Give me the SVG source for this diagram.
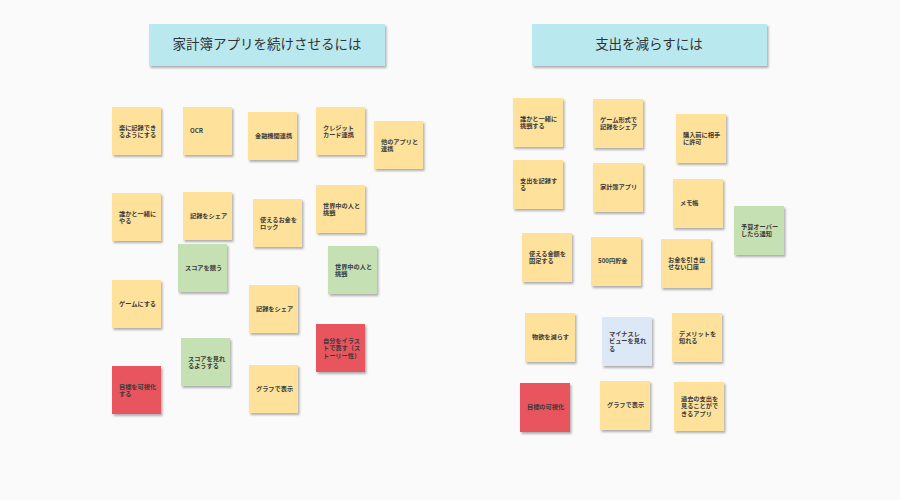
<svg xmlns="http://www.w3.org/2000/svg" width="900" height="500" viewBox="0 0 900 500">
<defs>
<filter id="sh" x="-20%" y="-20%" width="140%" height="140%">
<feDropShadow dx="1.5" dy="2" stdDeviation="1.2" flood-color="#000" flood-opacity="0.3"/>
</filter>
<style>
.t{fill:#b9e8ee;filter:url(#sh)}
.tt{font-family:"Noto Sans CJK JP","Noto Sans",sans-serif;font-size:13.5px;fill:#333;text-anchor:middle}
.y{fill:#fee29b;filter:url(#sh)}
.g{fill:#c5e0b3;filter:url(#sh)}
.r{fill:#e8545e;filter:url(#sh)}
.b{fill:#dce8f6;filter:url(#sh)}
.n{font-family:"Noto Sans CJK JP","Noto Sans",sans-serif;font-size:6.2px;font-weight:bold;fill:#3a3a3a}
</style>
</defs>
<rect width="900" height="500" fill="#fafafa"/>
<g id="title1"><rect class="t" x="149" y="24" width="236" height="42"/><text class="tt" x="267" y="49">家計簿アプリを続けさせるには</text></g>
<g id="title2"><rect class="t" x="532" y="24" width="235" height="42"/><text class="tt" x="649" y="49">支出を減らすには</text></g>

<g id="L1"><rect class="y" x="112" y="107" width="49" height="48"/><text class="n"><tspan x="119" y="129.5">楽に記録でき</tspan><tspan x="119" y="137">るようにする</tspan></text></g>
<g id="L2"><rect class="y" x="183" y="107" width="49" height="48"/><text class="n"><tspan x="190" y="133.3">OCR</tspan></text></g>
<g id="L3"><rect class="y" x="248" y="112" width="49" height="48"/><text class="n"><tspan x="255" y="138.3">金融機関連携</tspan></text></g>
<g id="L4"><rect class="y" x="316" y="107" width="49" height="48"/><text class="n"><tspan x="323" y="129.5">クレジット</tspan><tspan x="323" y="137">カード連携</tspan></text></g>
<g id="L5"><rect class="y" x="374" y="121" width="49" height="48"/><text class="n"><tspan x="381" y="143.5">他のアプリと</tspan><tspan x="381" y="151">連携</tspan></text></g>
<g id="L6"><rect class="y" x="112" y="193" width="49" height="48"/><text class="n"><tspan x="119" y="215.5">誰かと一緒に</tspan><tspan x="119" y="223">やる</tspan></text></g>
<g id="L7"><rect class="y" x="183" y="192" width="49" height="48"/><text class="n"><tspan x="190" y="218.3">記録をシェア</tspan></text></g>
<g id="L8"><rect class="y" x="253" y="199" width="49" height="48"/><text class="n"><tspan x="260" y="221.5">使えるお金を</tspan><tspan x="260" y="229">ロック</tspan></text></g>
<g id="L9"><rect class="y" x="316" y="185" width="49" height="48"/><text class="n"><tspan x="323" y="207.5">世界中の人と</tspan><tspan x="323" y="215">挑戦</tspan></text></g>
<g id="L10"><rect class="g" x="178" y="244" width="49" height="48"/><text class="n"><tspan x="185" y="270.3">スコアを競う</tspan></text></g>
<g id="L11"><rect class="g" x="328" y="246" width="49" height="48"/><text class="n"><tspan x="335" y="268.5">世界中の人と</tspan><tspan x="335" y="276">挑戦</tspan></text></g>
<g id="L12"><rect class="y" x="112" y="280" width="49" height="48"/><text class="n"><tspan x="119" y="306.3">ゲームにする</tspan></text></g>
<g id="L13"><rect class="y" x="249" y="285" width="49" height="48"/><text class="n"><tspan x="256" y="311.3">記録をシェア</tspan></text></g>
<g id="L14"><rect class="r" x="316" y="324" width="49" height="48"/><text class="n"><tspan x="323" y="342.8">自分をイラス</tspan><tspan x="323" y="350.3">トで表す（ス</tspan><tspan x="323" y="357.8">トーリー性）</tspan></text></g>
<g id="L15"><rect class="g" x="181" y="338" width="49" height="48"/><text class="n"><tspan x="188" y="360.5">スコアを見れ</tspan><tspan x="188" y="368">るようする</tspan></text></g>
<g id="L16"><rect class="r" x="112" y="366" width="49" height="48"/><text class="n"><tspan x="119" y="388.5">目標を可視化</tspan><tspan x="119" y="396">する</tspan></text></g>
<g id="L17"><rect class="y" x="249" y="365" width="49" height="48"/><text class="n"><tspan x="256" y="391.3">グラフで表示</tspan></text></g>

<g id="R1"><rect class="y" x="513" y="98" width="50" height="49"/><text class="n"><tspan x="520" y="120.5">誰かと一緒に</tspan><tspan x="520" y="128">挑戦する</tspan></text></g>
<g id="R2"><rect class="y" x="593" y="99" width="50" height="49"/><text class="n"><tspan x="600" y="121.5">ゲーム形式で</tspan><tspan x="600" y="129">記録をシェア</tspan></text></g>
<g id="R3"><rect class="y" x="676" y="114" width="50" height="49"/><text class="n"><tspan x="683" y="136.5">購入前に相手</tspan><tspan x="683" y="144">に許可</tspan></text></g>
<g id="R4"><rect class="y" x="513" y="160" width="50" height="49"/><text class="n"><tspan x="520" y="182.5">支出を記録す</tspan><tspan x="520" y="190">る</tspan></text></g>
<g id="R5"><rect class="y" x="593" y="163" width="50" height="49"/><text class="n"><tspan x="600" y="189.3">家計簿アプリ</tspan></text></g>
<g id="R6"><rect class="y" x="673" y="179" width="50" height="49"/><text class="n"><tspan x="680" y="205.3">メモ帳</tspan></text></g>
<g id="R7"><rect class="g" x="734" y="206" width="50" height="49"/><text class="n"><tspan x="741" y="228.5">予算オーバー</tspan><tspan x="741" y="236">したら通知</tspan></text></g>
<g id="R8"><rect class="y" x="522" y="233" width="50" height="49"/><text class="n"><tspan x="529" y="255.5">使える金額を</tspan><tspan x="529" y="263">固定する</tspan></text></g>
<g id="R9"><rect class="y" x="591" y="237" width="50" height="49"/><text class="n"><tspan x="598" y="263.3">500円貯金</tspan></text></g>
<g id="R10"><rect class="y" x="661" y="239" width="50" height="49"/><text class="n"><tspan x="668" y="261.5">お金を引き出</tspan><tspan x="668" y="269">せない口座</tspan></text></g>
<g id="R11"><rect class="y" x="525" y="313" width="50" height="49"/><text class="n"><tspan x="532" y="339.3">物欲を減らす</tspan></text></g>
<g id="R12"><rect class="b" x="602" y="317" width="50" height="49"/><text class="n"><tspan x="609" y="335.8">マイナスレ</tspan><tspan x="609" y="343.3">ビューを見れ</tspan><tspan x="609" y="350.8">る</tspan></text></g>
<g id="R13"><rect class="y" x="672" y="313" width="50" height="49"/><text class="n"><tspan x="679" y="335.5">デメリットを</tspan><tspan x="679" y="343">知れる</tspan></text></g>
<g id="R14"><rect class="r" x="520" y="383" width="50" height="49"/><text class="n"><tspan x="527" y="409.3">目標の可視化</tspan></text></g>
<g id="R15"><rect class="y" x="600" y="381" width="50" height="49"/><text class="n"><tspan x="607" y="407.3">グラフで表示</tspan></text></g>
<g id="R16"><rect class="y" x="674" y="382" width="50" height="49"/><text class="n"><tspan x="681" y="400.8">過去の支出を</tspan><tspan x="681" y="408.3">見ることがで</tspan><tspan x="681" y="415.8">きるアプリ</tspan></text></g>
<g id="connectors"></g>
</svg>
